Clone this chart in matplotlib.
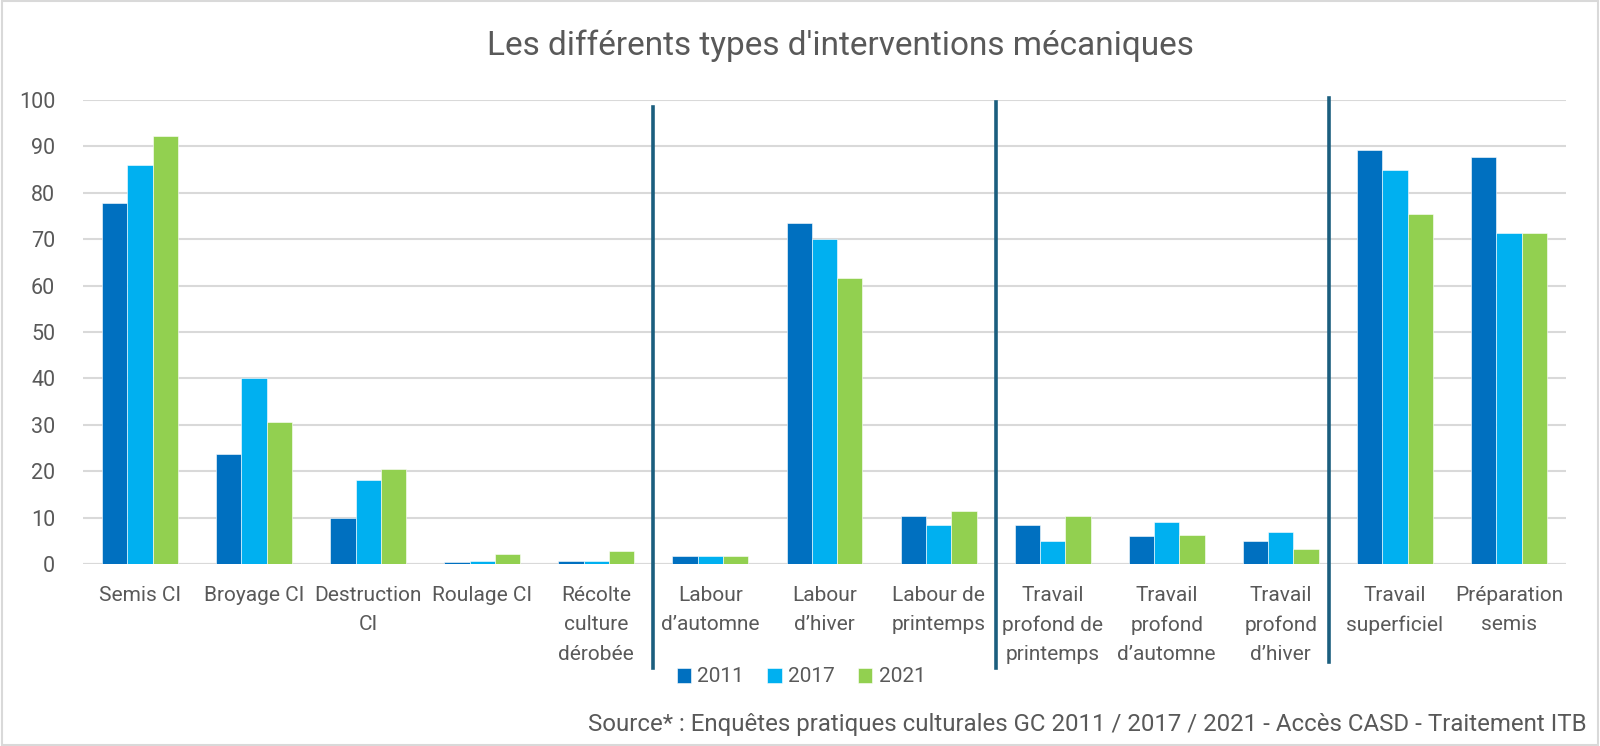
import matplotlib
matplotlib.use("Agg")
import matplotlib.pyplot as plt
import numpy as np
from matplotlib.patches import Rectangle
from matplotlib.transforms import blended_transform_factory

categories = ["Semis CI", "Broyage CI", "Destruction\nCI", "Roulage CI",
              "Récolte\nculture\ndérobée", "Labour\nd’automne", "Labour\nd’hiver",
              "Labour de\nprintemps", "Travail\nprofond de\nprintemps",
              "Travail\nprofond\nd’automne", "Travail\nprofond\nd’hiver",
              "Travail\nsuperficiel", "Préparation\nsemis"]
series_names = ["2011", "2017", "2021"]
v2011 = [77.9, 23.7, 9.9, 0.4, 0.6, 1.8, 73.5, 10.4, 8.3, 6.0, 5.0, 89.3, 87.7]
v2017 = [85.9, 40.0, 18.1, 0.65, 0.6, 1.65, 70.0, 8.5, 4.9, 9.0, 6.8, 85.0, 71.3]
v2021 = [92.2, 30.7, 20.5, 2.2, 2.7, 1.65, 61.6, 11.4, 10.3, 6.2, 3.2, 75.4, 71.3]
yticks = [0, 10, 20, 30, 40, 50, 60, 70, 80, 90, 100]
separators = [4.5, 7.5, 10.42]

colors = ["#0070C0", "#00B0F0", "#92D050"]
txt = "#595959"
sans = ["Liberation Sans Narrow", "Roboto", "DejaVu Sans"]
title_font = ["Roboto", "DejaVu Sans"]

fig = plt.figure(figsize=(16, 7.46), dpi=100)
ax = fig.add_axes([83/1600, 1-564/746, (1566-83)/1600, (564-100)/746])

x = np.arange(len(categories))
w = 0.222
for i, (vals, name) in enumerate(zip([v2011, v2017, v2021], series_names)):
    ax.bar(x + (i-1)*w, vals, width=w, color=colors[i], label=name,
           edgecolor="white", linewidth=0.4, zorder=3)

ax.set_xlim(-0.5, len(categories)-0.5)
ax.set_ylim(0, 100)
ax.set_yticks(yticks)
ax.set_yticklabels([str(t) for t in yticks], fontsize=15.5, color=txt, family=sans)
ax.set_xticks(x)
ax.set_xticklabels(categories, fontsize=15, color=txt, family=sans, linespacing=1.68, va="top")
ax.tick_params(axis="both", length=0)
ax.tick_params(axis="x", pad=16)
ax.tick_params(axis="y", pad=20)
ax.grid(axis="y", color="#D9D9D9", linewidth=1.5, zorder=0)
for s in ax.spines.values():
    s.set_visible(False)
ax.axhline(0, color="#D9D9D9", linewidth=1.5, zorder=2)

# separators
trans = blended_transform_factory(ax.transData, fig.transFigure)
tops = [1-107/746, 1-102/746, 1-98/746]
bots = [1-668/746, 1-668/746, 1-662/746]
for sx, t, b in zip(separators, tops, bots):
    ax.add_line(plt.Line2D([sx, sx], [b, t], transform=trans, color="#1B5E7E",
                           linewidth=2.6, clip_on=False, zorder=5))

fig.text(0.525, 1-46/746, "Les différents types d'interventions mécaniques",
         ha="center", va="center", fontsize=24, color=txt, family=title_font)

leg = fig.legend(loc="center", bbox_to_anchor=(801/1600, 1-677/746), ncol=3, frameon=False,
                 prop={"family": sans, "size": 15}, handlelength=0.7, handleheight=0.7,
                 handletextpad=0.3, columnspacing=1.1, labelcolor=txt)

fig.text(1587/1600, 1-725/746,
         "Source* : Enquêtes pratiques culturales GC 2011 / 2017 / 2021 - Accès CASD - Traitement ITB",
         ha="right", va="center", fontsize=17.3, color=txt, family=title_font)

fig.patches.append(Rectangle((0.001, 0.002), 0.998, 0.996, transform=fig.transFigure,
                             fill=False, edgecolor="#D9D9D9", linewidth=1.5))

fig.savefig("out.png", dpi=100, facecolor="white")
